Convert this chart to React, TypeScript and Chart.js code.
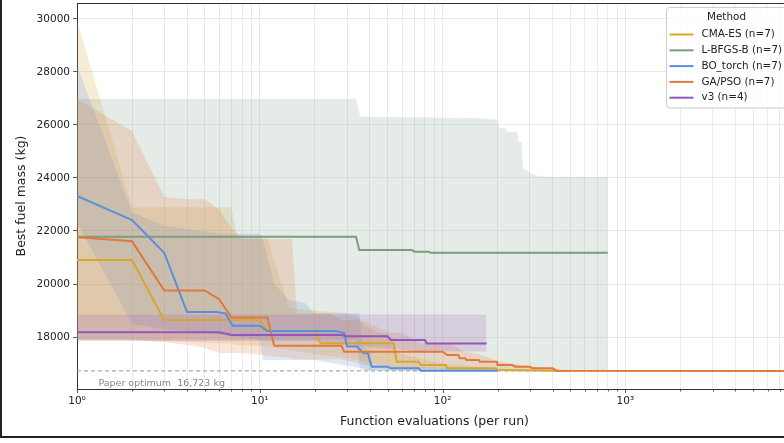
import React, { useEffect, useRef } from "react";
import { Chart, registerables } from "chart.js";
Chart.register(...registerables);

// ---- axes ----
const X_MIN = 1;
const X_MAX = 8157;
const Y_MIN = 16040;
const Y_MAX = 30600;
const Y_TICKS = [18000, 20000, 22000, 24000, 26000, 28000, 30000];
const X_DECADES = [1, 10, 100, 1000];
const X_TICK_LABELS = ["10\u2070", "10\u00B9", "10\u00B2", "10\u00B3"];
const PAPER_OPTIMUM = 16723;
const PAPER_LABEL = "Paper optimum  16,723 kg";
const X_TITLE = "Function evaluations (per run)";
const Y_TITLE = "Best fuel mass (kg)";
const LEGEND_TITLE = "Method";

const NAMES = ["CMA-ES (n=7)", "L-BFGS-B (n=7)", "BO_torch (n=7)", "GA/PSO (n=7)", "v3 (n=4)"];
const COLORS = ["#d6a72c", "#7c9c80", "#5a8fdb", "#e07a3c", "#9457b8"];

// ---- CMA-ES ----
const CMA_X = [1, 2, 3, 10, 11, 20, 21.5, 54, 56, 74, 76, 104, 106, 195, 200, 500];
const CMA_Y = [20906, 20906, 18640, 18640, 18230, 18230, 17770, 17770, 17070, 17070, 16943, 16943, 16820, 16820, 16755, 16723];
const CMA_BX = [1, 2, 7, 7.5, 11, 14.5, 30, 50, 56, 100, 200, 500];
const CMA_HI = [29940, 22900, 22900, 21800, 21700, 19100, 18900, 18200, 17400, 17000, 16800, 16730];
const CMA_LO = [17900, 17900, 17750, 17700, 17650, 17500, 17200, 16900, 16800, 16723, 16723, 16723];

// ---- L-BFGS-B ----
const LB_X = [1, 33.6, 35, 68, 70, 84, 86, 800];
const LB_Y = [21781, 21781, 21283, 21283, 21220, 21220, 21180, 21180];
const LB_BX = [1, 33.6, 35.5, 150, 197, 205, 222, 224, 257, 260, 270, 276, 295, 313, 362, 800];
const LB_HI = [26980, 26980, 26313, 26260, 26200, 25875, 25875, 25747, 25747, 25370, 25370, 24366, 24238, 24113, 24049, 24049];
const LB_LO = [17900, 17900, 16750, 16730, 16723, 16723, 16723, 16723, 16723, 16723, 16723, 16723, 16723, 16723, 16723, 16723];

// ---- BO_torch ----
const BO_X = [1, 2, 3, 4, 5.8, 6.5, 7.1, 10, 11, 26, 29, 30, 34, 37, 39, 41, 50, 52, 74, 76, 200];
const BO_Y = [23320, 22415, 21180, 18943, 18943, 18890, 18430, 18430, 18226, 18226, 18150, 17640, 17640, 17385, 17385, 16880, 16880, 16820, 16820, 16730, 16730];
const BO_BX = [1, 2, 3, 6, 10, 10.4, 12, 14.5, 17.5, 20, 35, 36.5, 40, 41, 200];
const BO_HI = [28250, 22700, 22200, 21900, 21900, 21700, 20000, 19400, 19300, 18900, 18900, 17700, 17400, 16950, 16760];
const BO_LO = [22300, 18500, 18300, 18100, 17900, 17130, 17130, 17130, 17130, 17130, 16830, 16830, 16723, 16723, 16723];

// ---- GA/PSO ----
const GA_X = [1, 2, 3, 5, 6, 7, 11, 12, 28, 29, 100, 106, 122, 124, 133, 135, 158, 160, 198, 200, 240, 250, 300, 310, 400, 420, 8157];
const GA_Y = [21760, 21610, 19760, 19760, 19420, 18740, 18740, 17670, 17670, 17445, 17445, 17320, 17320, 17196, 17196, 17130, 17130, 17070, 17070, 16943, 16943, 16880, 16880, 16820, 16820, 16730, 16723];
const GA_BX = [1, 2, 3, 4, 5, 6, 7, 8, 15, 16, 24, 28, 35, 38, 45, 60, 75, 110, 130, 160, 200, 300, 500, 8157];
const GA_HI = [26980, 25770, 23290, 23200, 23200, 22800, 22100, 21700, 21700, 18900, 18900, 18640, 18640, 18400, 18150, 18150, 17770, 17770, 17450, 17350, 17100, 16900, 16730, 16723];
const GA_LO = [17900, 17900, 17800, 17700, 17600, 17400, 17400, 17400, 17200, 17150, 17150, 17150, 17000, 16950, 16900, 16900, 16850, 16800, 16780, 16760, 16740, 16723, 16723, 16723];

// ---- v3 ----
const V3_X = [1, 6, 7, 28, 30, 50, 52, 80, 82, 174];
const V3_Y = [18180, 18180, 18080, 18080, 18030, 18030, 17890, 17890, 17760, 17760];
const V3_BX = [1, 20, 30, 52, 80, 174];
const V3_HI = [18850, 18850, 18850, 18850, 18850, 18850];
const V3_LO = [17850, 17850, 17700, 17550, 17450, 17450];

const FONT = "DejaVu Sans";

function rgba(hex: string, a: number) {
  const n = parseInt(hex.slice(1), 16);
  return `rgba(${(n >> 16) & 255},${(n >> 8) & 255},${n & 255},${a})`;
}
const pts = (xs: number[], ys: number[]) => xs.map((x, i) => ({ x, y: ys[i] }));

const framePlugin = {
  id: "frameExtras",
  afterDraw(chart: any) {
    const { ctx, chartArea } = chart;
    const xs = chart.scales.x;
    const ys = chart.scales.y;
    ctx.save();
    // top spine
    ctx.strokeStyle = "#333";
    ctx.lineWidth = 1;
    ctx.beginPath();
    ctx.moveTo(chartArea.left, Math.round(chartArea.top) + 0.5);
    ctx.lineTo(chartArea.right, Math.round(chartArea.top) + 0.5);
    ctx.stroke();
    // x tick marks
    const by = Math.round(chartArea.bottom) + 0.5;
    ctx.lineWidth = 0.8;
    for (const d of X_DECADES) {
      for (let m = 1; m <= 9; m++) {
        const v = m * d;
        if (v > X_MAX) continue;
        const px = Math.round(xs.getPixelForValue(v)) + 0.5;
        ctx.beginPath();
        ctx.moveTo(px, by);
        ctx.lineTo(px, by + (m === 1 ? 3.5 : 2));
        ctx.stroke();
      }
    }
    // paper optimum label
    ctx.fillStyle = "#888";
    ctx.font = `9.5px "${FONT}"`;
    ctx.textBaseline = "alphabetic";
    ctx.textAlign = "left";
    ctx.fillText(PAPER_LABEL, xs.getPixelForValue(1.31), ys.getPixelForValue(PAPER_OPTIMUM) + 15.5);
    // legend
    const L = 666.5;
    const T = chartArea.top + 4.5;
    const W = 122;
    const H = 100.5;
    const r = 3;
    ctx.beginPath();
    ctx.moveTo(L + r, T);
    ctx.lineTo(L + W - r, T);
    ctx.arcTo(L + W, T, L + W, T + r, r);
    ctx.lineTo(L + W, T + H - r);
    ctx.arcTo(L + W, T + H, L + W - r, T + H, r);
    ctx.lineTo(L + r, T + H);
    ctx.arcTo(L, T + H, L, T + H - r, r);
    ctx.lineTo(L, T + r);
    ctx.arcTo(L, T, L + r, T, r);
    ctx.closePath();
    ctx.fillStyle = "rgba(255,255,255,0.8)";
    ctx.fill();
    ctx.strokeStyle = "#cccccc";
    ctx.lineWidth = 1;
    ctx.stroke();
    ctx.fillStyle = "#222";
    ctx.font = `10.4px "${FONT}"`;
    ctx.textAlign = "center";
    ctx.textBaseline = "middle";
    ctx.fillText(LEGEND_TITLE, L + 60, T + 10);
    ctx.textAlign = "left";
    NAMES.forEach((name, i) => {
      const y = T + 27 + i * 15.8;
      ctx.strokeStyle = COLORS[i];
      ctx.lineWidth = 2;
      ctx.beginPath();
      ctx.moveTo(L + 3, y);
      ctx.lineTo(L + 27, y);
      ctx.stroke();
      ctx.fillStyle = "#222";
      ctx.fillText(name, L + 35, y);
    });
    ctx.restore();
  },
};

export default function App() {
  const ref = useRef<HTMLCanvasElement>(null);
  useEffect(() => {
    const canvas = ref.current;
    if (!canvas) return;
    const series = [
      { lx: CMA_X, ly: CMA_Y, bx: CMA_BX, lo: CMA_LO, hi: CMA_HI },
      { lx: LB_X, ly: LB_Y, bx: LB_BX, lo: LB_LO, hi: LB_HI },
      { lx: BO_X, ly: BO_Y, bx: BO_BX, lo: BO_LO, hi: BO_HI },
      { lx: GA_X, ly: GA_Y, bx: GA_BX, lo: GA_LO, hi: GA_HI },
      { lx: V3_X, ly: V3_Y, bx: V3_BX, lo: V3_LO, hi: V3_HI },
    ];
    const datasets: any[] = [];
    series.forEach((s, i) => {
      const idx = datasets.length;
      datasets.push({
        label: NAMES[i] + " hi",
        data: pts(s.bx, s.hi),
        borderWidth: 0,
        pointRadius: 0,
        backgroundColor: rgba(COLORS[i], 0.2),
        borderColor: "rgba(0,0,0,0)",
        fill: idx + 1,
        order: 30 - i,
      });
      datasets.push({
        label: NAMES[i] + " lo",
        data: pts(s.bx, s.lo),
        borderWidth: 0,
        pointRadius: 0,
        borderColor: "rgba(0,0,0,0)",
        fill: false,
        order: 30 - i,
      });
    });
    datasets.push({
      label: "paper",
      data: [
        { x: X_MIN, y: PAPER_OPTIMUM },
        { x: X_MAX, y: PAPER_OPTIMUM },
      ],
      borderColor: "#9a9a9a",
      borderWidth: 1,
      borderDash: [4, 3],
      pointRadius: 0,
      fill: false,
      order: 9,
    });
    series.forEach((s, i) => {
      datasets.push({
        label: NAMES[i],
        data: pts(s.lx, s.ly),
        borderColor: COLORS[i],
        borderWidth: 2,
        pointRadius: 0,
        fill: false,
        order: 5 - i,
      });
    });

    const chart = new Chart(canvas, {
      type: "line",
      data: { datasets },
      options: {
        responsive: false,
        animation: false,
        devicePixelRatio: 1,
        layout: { padding: { left: 0, right: 8, top: 3, bottom: 0 } },
        elements: { line: { tension: 0 }, point: { radius: 0 } },
        plugins: { legend: { display: false }, tooltip: { enabled: false } },
        scales: {
          x: {
            type: "logarithmic",
            min: X_MIN,
            max: X_MAX,
            afterFit: (sc: any) => {
              sc.height = 54;
              sc.paddingLeft = 0;
              sc.paddingRight = 0;
            },
            afterBuildTicks: (sc: any) => {
              const t: any[] = [];
              for (const d of X_DECADES)
                for (let m = 1; m <= 9; m++) if (m * d <= X_MAX) t.push({ value: m * d, major: m === 1 });
              sc.ticks = t;
            },
            grid: { color: "#e6e6e6", lineWidth: 0.8, drawTicks: false },
            border: { color: "#333", width: 1 },
            ticks: {
              autoSkip: false,
              maxRotation: 0,
              padding: 6,
              color: "#222",
              font: { family: FONT, size: 10.5 },
              callback: (v: any) => {
                const i = X_DECADES.indexOf(Number(v));
                return i >= 0 ? X_TICK_LABELS[i] : "";
              },
            },
            title: {
              display: true,
              text: X_TITLE,
              color: "#222",
              font: { family: FONT, size: 12.5 },
              padding: { top: 0, bottom: 13.5 },
            },
          },
          y: {
            type: "linear",
            min: Y_MIN,
            max: Y_MAX,
            afterFit: (sc: any) => {
              sc.width = 77;
              sc.paddingTop = 0;
              sc.paddingBottom = 0;
            },
            afterBuildTicks: (sc: any) => {
              sc.ticks = Y_TICKS.map((v) => ({ value: v }));
            },
            grid: { color: "#e6e6e6", lineWidth: 0.8, drawTicks: true, tickLength: 4, tickColor: "#333" },
            border: { color: "#333", width: 1 },
            ticks: {
              padding: 3,
              color: "#222",
              font: { family: FONT, size: 10.5 },
              callback: (v: any) => String(v),
            },
            title: {
              display: true,
              text: Y_TITLE,
              color: "#222",
              font: { family: FONT, size: 12.5 },
              padding: { top: 14.5, bottom: 0 },
            },
          },
        },
      },
      plugins: [framePlugin],
    } as any);
    return () => chart.destroy();
  }, []);

  return (
    <div
      style={{
        position: "fixed",
        left: 0,
        top: 0,
        width: 784,
        height: 443,
        overflow: "hidden",
        background: "#fff",
      }}
    >
      <div
        style={{
          position: "absolute",
          left: 0,
          top: -4,
          width: 1000,
          height: 442,
          boxSizing: "border-box",
          borderLeft: "2px solid #222",
          borderBottom: "2px solid #222",
        }}
      />
      <canvas
        ref={ref}
        width={800}
        height={443}
        style={{ position: "absolute", left: 0, top: 0, width: 800, height: 443 }}
      />
    </div>
  );
}
